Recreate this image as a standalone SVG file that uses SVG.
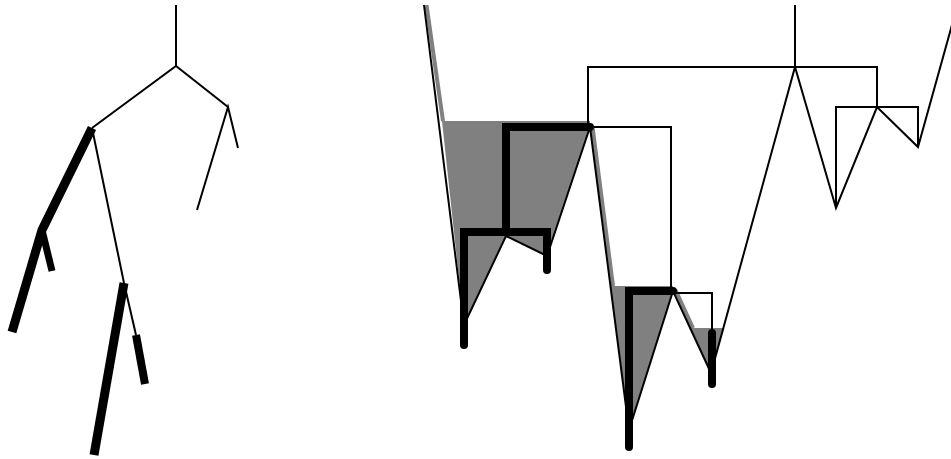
<svg xmlns="http://www.w3.org/2000/svg" width="951" height="459" viewBox="0 0 951 459">
<style>
.thin{fill:none;stroke:#000;stroke-width:2;stroke-linejoin:miter}
.thickL{fill:none;stroke:#000;stroke-linecap:butt;stroke-linejoin:round}
.thickR{fill:none;stroke:#000;stroke-width:8;stroke-linecap:round;stroke-linejoin:miter}
.gfill{fill:#808080;stroke:none}
.gband{fill:none;stroke:#808080;stroke-width:4}
</style>
<rect x="0" y="0" width="951" height="459" fill="#fff"/>
<g id="left-tree">
  <g id="left-thin">
    <path class="thin" d="M176,5 L176,66"/>
    <path class="thin" d="M92,128 L176,66 L228,107"/>
    <path class="thin" d="M238,148 L228,107 L197,210"/>
    <path class="thin" d="M92,128 L124,283 L136,335"/>
  </g>
  <g id="left-thick">
    <path class="thickL" stroke-width="9" d="M92,128 L42,230 L12,332"/>
    <path class="thickL" stroke-width="7" d="M42,230 L52,271"/>
    <path class="thickL" stroke-width="9" d="M124,283 L94,455"/>
    <path class="thickL" stroke-width="8" d="M136,335 L145,384"/>
  </g>
</g>
<g id="right-graph">
  <g id="gray-regions">
    <polygon class="gfill" points="442,121 590,121 590,127 547,256 506,236 464,325"/>
    <polygon class="gfill" points="610,286 673,286 673,291 629,430"/>
    <polygon class="gfill" points="690,328 724,328 711,373"/>
    <path class="gband" d="M426.5,5 L443,121"/>
    <path class="gband" d="M592.5,127 L613,286"/>
    <path class="gband" d="M675.5,290 L693,328"/>
  </g>
  <g id="connectors">
    <path class="thin" d="M795,5 L795,67"/>
    <path class="thin" d="M588,127 L588,67 L877,67 L877,107"/>
    <path class="thin" d="M836,208 L836,107 L918,107 L918,147"/>
    <path class="thin" d="M590,127 L671,127 L671,291"/>
    <path class="thin" d="M673,293 L712,293 L712,332"/>
  </g>
  <g id="function-graph">
    <path class="thin" d="M424,5 L464,325 L506,236 L547,256 L590,127 L629,430 L673,291 L711,373 L795,67 L836,208 L877,107 L918,147 L952,25"/>
  </g>
  <g id="thick-tree">
    <path class="thickR" d="M464,345 L464,232 L547,232 L547,270"/>
    <path class="thickR" d="M506,232 L506,127 L590,127"/>
    <path class="thickR" d="M629,447 L629,291 L673,291"/>
    <path class="thickR" d="M712,333 L712,384"/>
  </g>
</g>
</svg>
